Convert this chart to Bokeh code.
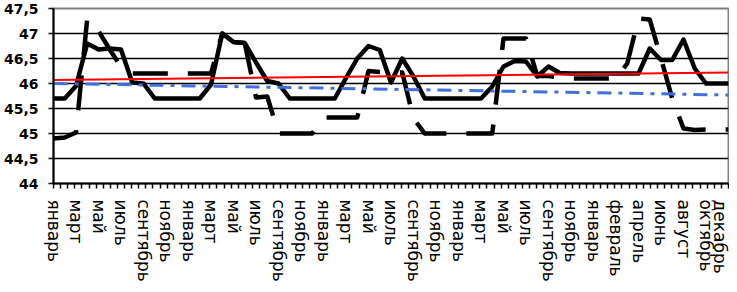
import numpy as np
from bokeh.plotting import figure
from bokeh.models import FixedTicker, Range1d, ColumnDataSource
from bokeh.embed import file_html
from bokeh.resources import INLINE

months = ["январь", "февраль", "март", "апрель", "май", "июнь", "июль",
          "август", "сентябрь", "октябрь", "ноябрь", "декабрь"]
categories = months * 4 + ["январь", "январь"] + months[1:]

solid = [45.7, 45.7, 45.95, 46.8, 46.68, 46.7, 46.68, 46.02, 46.0, 45.7,
         45.7, 45.7, 45.7, 45.7, 45.98, 47.0, 46.83, 46.81, 46.42, 46.05,
         46.0, 45.7, 45.7, 45.7, 45.7, 45.7, 46.11, 46.5, 46.75, 46.67,
         46.02, 46.5, 46.14, 45.7, 45.7, 45.7, 45.7, 45.7, 45.7, 45.94,
         46.34, 46.45, 46.44, 46.14, 46.34, 46.21, 46.2, 46.2, 46.2, 46.2,
         46.2, 46.2, 46.2, 46.7, 46.47, 46.47, 46.88, 46.3, 46.0, 46.0,
         46.0]
dashed = [44.9, 44.92, 45.02, 47.3, 47.05, 46.68, 46.33, 46.2, 46.2, 46.2,
          46.2, 46.2, 46.2, 46.2, 46.2, 47.0, 46.83, 46.81, 45.72, 45.74,
          45.0, 45.0, 45.0, 45.0, 45.32, 45.32, 45.32, 45.32, 46.25, 46.23,
          46.22, 46.22, 45.3, 45.0, 45.0, 45.0, 45.0, 45.0, 45.0, 45.0,
          46.9, 46.9, 46.9, 46.15, 46.15, 46.12, 46.1, 46.1, 46.1, 46.1,
          46.1, 46.4, 47.3, 47.28, 46.5, 45.7, 45.1, 45.07, 45.08, 45.08,
          45.08]
trend_red = [46.07, 46.22]
trend_blue = [46.0, 45.77]
y_ticks = [44.0, 44.5, 45.0, 45.5, 46.0, 46.5, 47.0, 47.5]
y_tick_labels = ["44", "44,5", "45", "45,5", "46", "46,5", "47", "47,5"]

n = len(categories)
idx = list(range(n))
src = ColumnDataSource(dict(x=idx, solid=solid))
split = 17
src_d1 = ColumnDataSource(dict(x=idx[:split + 1], y=dashed[:split + 1]))
src_d2 = ColumnDataSource(dict(x=idx[split:], y=dashed[split:]))
trend_x = [0, n - 1]

p = figure(width=729, height=284, output_backend="svg", toolbar_location=None,
           x_range=Range1d(0, n - 1), y_range=Range1d(44, 47.5),
           min_border_left=52, min_border_right=1, min_border_top=8,
           min_border_bottom=99)
p.background_fill_color = "white"
p.border_fill_color = "white"
p.outline_line_color = "#808080"
p.outline_line_width = 2

p.line("x", "solid", source=src, line_color="black", line_width=4.5,
       line_join="round")
p.line("x", "y", source=src_d1, line_color="black", line_width=4.5,
       line_join="round", line_dash="35 20", line_dash_offset=9)
p.line("x", "y", source=src_d2, line_color="black", line_width=4.5,
       line_join="round", line_dash="35 20", line_dash_offset=3)
p.line(trend_x, trend_red, line_color="#FF0000", line_width=2)
p.line(trend_x, trend_blue, line_color="#3F6FE0", line_width=3,
       line_dash="14 7 4 7")

# y axis
p.yaxis.ticker = FixedTicker(ticks=y_ticks)
p.yaxis.major_label_overrides = {t: l for t, l in zip(y_ticks, y_tick_labels)}
p.yaxis.major_label_text_font = "DejaVu Sans"
p.yaxis.major_label_text_font_style = "bold"
p.yaxis.major_label_text_font_size = "14px"
p.yaxis.major_label_text_color = "black"
p.yaxis.major_label_standoff = 10
p.yaxis.major_tick_out = 5
p.yaxis.major_tick_in = 0
p.yaxis.major_tick_line_width = 1.5
p.yaxis.minor_tick_line_color = None
p.yaxis.axis_line_width = 2
p.yaxis.axis_line_color = "black"

# x axis
label_pos = list(range(0, n, 2))
tick_pos = list(np.linspace(0, n - 1, 96))
p.xaxis.ticker = FixedTicker(ticks=label_pos, minor_ticks=tick_pos)
p.xaxis.major_label_overrides = {i: categories[i] for i in label_pos}
p.xaxis.major_label_orientation = -np.pi / 2
p.xaxis.major_label_text_font = "DejaVu Sans"
p.xaxis.major_label_text_font_size = "17px"
p.xaxis.major_label_text_color = "black"
p.xaxis.major_label_standoff = 11
p.xaxis.major_tick_line_color = None
p.xaxis.major_tick_out = 5
p.xaxis.minor_tick_out = 5
p.xaxis.minor_tick_in = 0
p.xaxis.minor_tick_line_color = "black"
p.xaxis.minor_tick_line_width = 1.5
p.xaxis.axis_line_width = 2
p.xaxis.axis_line_color = "black"

p.xgrid.grid_line_color = None
p.ygrid.ticker = FixedTicker(ticks=y_ticks[1:-1])
p.ygrid.grid_line_color = "black"
p.ygrid.grid_line_width = 1.5

open("out.html", "w").write(file_html(p, INLINE))
